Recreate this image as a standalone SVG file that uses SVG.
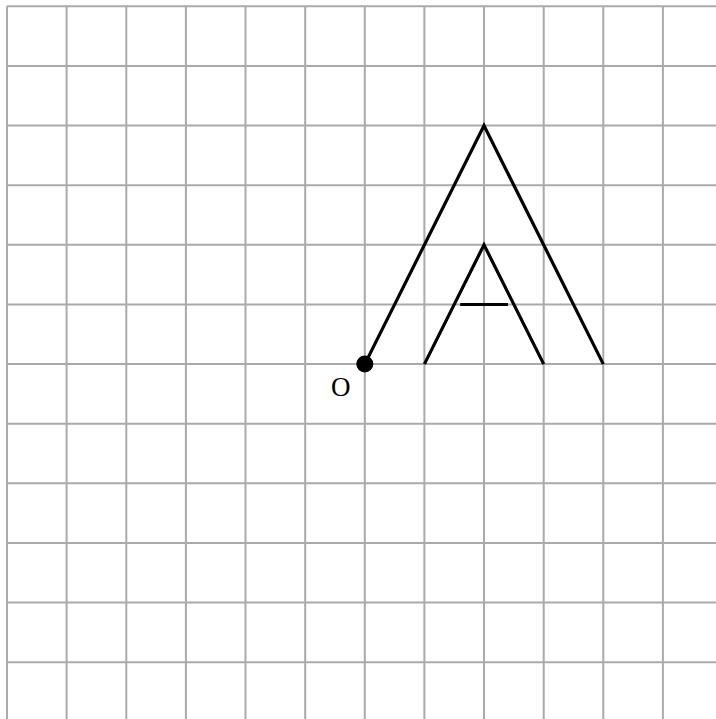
<svg xmlns="http://www.w3.org/2000/svg" width="716" height="719" viewBox="0 0 716 719">
<style>
.g{stroke:#aaaaaa;stroke-width:2;fill:none}
.s{stroke:#000;stroke-width:3.2;fill:none;stroke-linecap:butt;stroke-linejoin:miter}
.t{font-family:"Liberation Serif",serif;font-size:27px;fill:#000}
</style>
<rect width="716" height="719" fill="#fff"/>
<g id="grid" class="g">
<path d="M7,6.3V719M66.6,6.3V719M126.3,6.3V719M185.9,6.3V719M245.5,6.3V719M305.2,6.3V719M364.8,6.3V719M424.4,6.3V719M484,6.3V719M543.7,6.3V719M603.3,6.3V719M662.9,6.3V719"/>
<path d="M7,6.3H716M7,65.9H716M7,125.6H716M7,185.2H716M7,244.8H716M7,304.5H716M7,364.1H716M7,423.7H716M7,483.3H716M7,543H716M7,602.6H716M7,662.2H716"/>
</g>
<g id="connectors">
<polyline id="bigA" class="s" points="364.8,364.1 484,125.6 603.3,364.1"/>
<polyline id="smallA" class="s" points="424.4,364.1 484,244.8 543.7,364.1"/>
<line id="crossbar" class="s" x1="460.2" y1="304.5" x2="507.9" y2="304.5"/>
</g>
<g id="origin">
<circle cx="364.8" cy="364.1" r="8.5" fill="#000"/>
<text class="t" x="331" y="396">O</text>
</g>
</svg>
